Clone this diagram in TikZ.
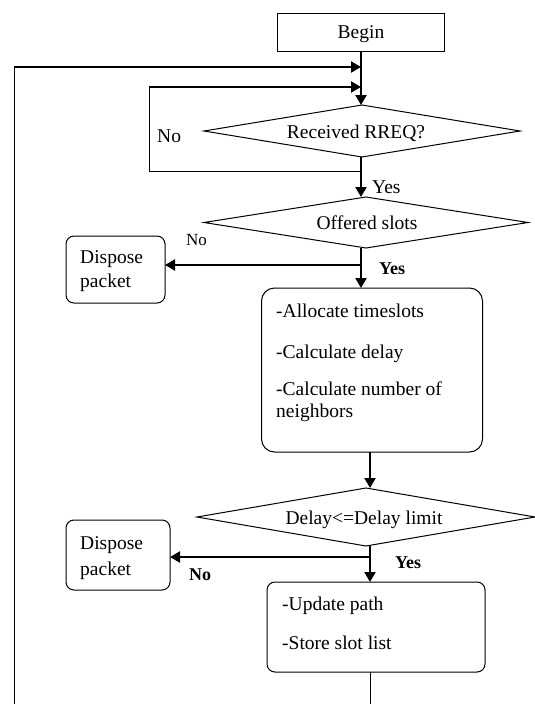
\documentclass[tikz,border=0pt]{standalone}
\usepackage{fontspec}
\setmainfont{Liberation Serif}
\usetikzlibrary{arrows.meta,shapes.geometric}

\begin{document}
\begin{tikzpicture}[x=1pt,y=-1pt,
  flow/.style={line width=2.2pt},
  arr/.style={flow,-{Triangle[length=10pt,width=11pt]}},
  thinline/.style={line width=1pt},
  plain/.style={font=\fontsize{19.5}{22}\selectfont, inner sep=0pt},
  boldlbl/.style={font=\fontsize{18}{20}\selectfont\bfseries, inner sep=0pt},
  termbox/.style={draw, thinline, inner sep=0pt, outer sep=0pt},
  procbox/.style={draw, thinline, rounded corners=#1, inner sep=0pt, outer sep=0pt},
  decision/.style={draw, thinline, diamond, inner sep=0pt, outer sep=0pt}
]
\clip (0,0) rectangle (535,704);
\fill[white] (0,0) rectangle (535,704);

% shapes
\node[termbox, minimum width=167pt, minimum height=38pt] (begin) at (361,32) {};
\node[decision, minimum width=316pt, minimum height=52pt] (d1) at (362,131) {};
\node[decision, minimum width=324pt, minimum height=51pt] (d2) at (366,222.5) {};
\node[procbox=8pt, minimum width=99pt, minimum height=67pt] (disp1) at (115.5,269.5) {};
\node[procbox=13pt, minimum width=221pt, minimum height=164pt] (box1) at (372,370) {};
\node[decision, minimum width=338pt, minimum height=58pt] (d3) at (366,517) {};
\node[procbox=8pt, minimum width=104pt, minimum height=70pt] (disp2) at (118,555) {};
\node[procbox=8pt, minimum width=218pt, minimum height=90pt] (box2) at (376,627) {};

% texts
\node[plain, anchor=base] (tbegin) at (361,38) {Begin};
\node[plain, anchor=base] (td1) at (356,138) {Received RREQ?};
\node[plain, anchor=base west] (tno1) at (157,142) {No};
\node[plain, anchor=base west] (tyes1) at (372,193) {Yes};
\node[plain, anchor=base] (td2) at (367,229) {Offered slots};
\node[plain, anchor=base west] (tno2) at (186,245) {\fontsize{17}{20}\selectfont No};
\node[boldlbl, anchor=base west] (tyes2) at (379,274) {Yes};
\node[plain, anchor=base west] (tdisp1a) at (80,263) {Dispose};
\node[plain, anchor=base west] (tdisp1b) at (80,287) {packet};
\node[plain, anchor=base west] (tb1a) at (276,317) {-Allocate timeslots};
\node[plain, anchor=base west] (tb1b) at (276,358) {-Calculate delay};
\node[plain, anchor=base west] (tb1c) at (276,395) {-Calculate number of};
\node[plain, anchor=base west] (tb1d) at (276,417) {neighbors};
\node[plain, anchor=base] (td3) at (364,524) {Delay<=Delay limit};
\node[boldlbl, anchor=base west] (tyes3) at (395,568) {Yes};
\node[boldlbl, anchor=base west] (tno3) at (189,580) {No};
\node[plain, anchor=base west] (tdisp2a) at (80,549) {Dispose};
\node[plain, anchor=base west] (tdisp2b) at (80,575) {packet};
\node[plain, anchor=base west] (tb2a) at (282,610) {-Update path};
\node[plain, anchor=base west] (tb2b) at (282,649) {-Store slot list};

% loop coordinates
\coordinate (outerL) at (14,67);
\coordinate (outerJ) at (361,67);
\coordinate (outerB) at (14,704);
\coordinate (innerT) at (149,87);
\coordinate (innerJ) at (361,87);
\coordinate (innerB) at (149,171);
\coordinate (innerR) at (361,171);
\coordinate (br1) at (361,265);
\coordinate (br2) at (370,557);
\coordinate (spine) at (370,517);

% outer loop back to the top
\draw[thinline] (outerB) -- (outerL);
\draw[arr] (outerL) -- (outerJ);
% "No" loop around the first decision
\draw[thinline] (innerR) -- (innerB) -- (innerT);
\draw[arr] (innerT) -- (innerJ);

% main flow
\draw[arr] (begin.south -| innerJ) -- (innerJ |- d1.north);
\draw[arr] (innerJ |- d1.south) -- (innerJ |- d2.north);
\draw[arr] (innerJ |- d2.south) -- (innerJ |- box1.north);
\draw[arr] (br1) -- (br1 -| disp1.east);
\draw[arr] (spine |- box1.south) -- (spine |- d3.north);
\draw[arr] (spine |- d3.south) -- (spine |- box2.north);
\draw[arr] (br2) -- (br2 -| disp2.east);
\draw[thinline] (spine |- box2.south) -- (spine |- outerB);
\end{tikzpicture}
\end{document}
